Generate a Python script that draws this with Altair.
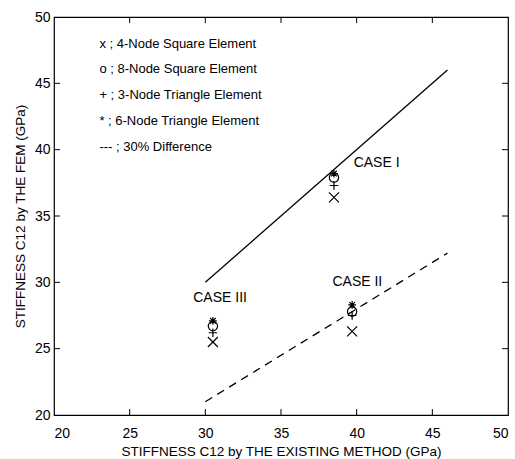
import altair as alt
import pandas as pd

FONT = "Liberation Sans Narrow, Arial Narrow, Liberation Sans, Arial"

# axis ticks
inner_ticks = [25, 30, 35, 40, 45]

# reference lines
line_x = [30, 46]
solid_y = [30, 46]
dashed_y = [21, 32.2]

# FEM results per case
case_x = [38.5, 39.7, 30.5]
x4_y = [36.4, 26.3, 25.5]
o8_y = [37.9, 27.8, 26.7]
p3_y = [37.3, 27.5, 26.2]
s6_y = [38.2, 28.3, 27.1]

# case labels
case_labels = ["CASE I", "CASE II", "CASE III"]
label_x = [39.8, 38.4, 29.2]
label_y = [39.0, 30.0, 28.8]

# legend text
legend_lines = [
    "x ; 4-Node Square Element",
    "o ; 8-Node Square Element",
    "+ ; 3-Node Triangle Element",
    "* ; 6-Node Triangle Element",
    "--- ; 30% Difference",
]
legend_x = [23.0] * 5
legend_y = [48.0, 46.05, 44.1, 42.15, 40.2]

W, H = 454, 398
xs = alt.Scale(domain=[20, 50], nice=False, zero=False)
ys = alt.Scale(domain=[20, 50], nice=False, zero=False)

lines_df = pd.DataFrame({"x": line_x * 2, "y": solid_y + dashed_y,
                         "kind": ["solid"] * 2 + ["dashed"] * 2})

solid = alt.Chart(lines_df[lines_df.kind == "solid"]).mark_line(
    color="black", strokeWidth=1.3).encode(
    x=alt.X("x:Q", scale=xs, title="STIFFNESS C12 by THE EXISTING METHOD (GPa)",
            axis=alt.Axis(values=[20, 25, 30, 35, 40, 45, 50], ticks=False, domain=False,
                          grid=False, labelPadding=11, titlePadding=4, format="d")),
    y=alt.Y("y:Q", scale=ys, title="STIFFNESS C12 by THE FEM (GPa)",
            axis=alt.Axis(values=[20, 25, 30, 35, 40, 45, 50], ticks=False, domain=False,
                          grid=False, labelPadding=4, titlePadding=7, format="d")),
)
dashed = alt.Chart(lines_df[lines_df.kind == "dashed"]).mark_line(
    color="black", strokeWidth=1.3, strokeDash=[8, 6]).encode(
    x=alt.X("x:Q", scale=xs), y=alt.Y("y:Q", scale=ys))

types = ["x4", "o8", "p3", "s6"]
pts = []
for t, vals in zip(types, [x4_y, o8_y, p3_y, s6_y]):
    for cx, cy in zip(case_x, vals):
        pts.append({"x": cx, "y": cy, "t": t})
pts_df = pd.DataFrame(pts)

shape_paths = [
    "M-1,-1L1,1M-1,1L1,-1",
    "circle",
    "M-1,0L1,0M0,-1L0,1",
    "M-1,0L1,0M0,-1L0,1M-0.72,-0.72L0.72,0.72M-0.72,0.72L0.72,-0.72",
]
sizes = [100, 60, 85, 110]

markers = alt.Chart(pts_df).mark_point(filled=False, color="black", strokeWidth=1.2, opacity=1).encode(
    x=alt.X("x:Q", scale=xs), y=alt.Y("y:Q", scale=ys),
    shape=alt.Shape("t:N", scale=alt.Scale(domain=types, range=shape_paths), legend=None),
    size=alt.Size("t:N", scale=alt.Scale(domain=types, range=sizes), legend=None),
)

lab_df = pd.DataFrame({"x": label_x, "y": label_y, "t": case_labels})
labels = alt.Chart(lab_df).mark_text(align="left", baseline="middle", font=FONT,
                                     fontSize=14, color="black").encode(
    x=alt.X("x:Q", scale=xs), y=alt.Y("y:Q", scale=ys), text="t:N")

leg_df = pd.DataFrame({"x": legend_x, "y": legend_y, "t": legend_lines})
legend = alt.Chart(leg_df).mark_text(align="left", baseline="middle", font=FONT,
                                     fontSize=13, color="black").encode(
    x=alt.X("x:Q", scale=xs), y=alt.Y("y:Q", scale=ys), text="t:N")

tick_df = pd.DataFrame({"v": inner_ticks})
tb = alt.Chart(tick_df).mark_rule(color="black", strokeWidth=1).encode(
    x=alt.X("v:Q", scale=xs), y=alt.value(H), y2=alt.value(H - 6))
tt = alt.Chart(tick_df).mark_rule(color="black", strokeWidth=1).encode(
    x=alt.X("v:Q", scale=xs), y=alt.value(0), y2=alt.value(6))
tl = alt.Chart(tick_df).mark_rule(color="black", strokeWidth=1).encode(
    y=alt.Y("v:Q", scale=ys), x=alt.value(0), x2=alt.value(6))
tr = alt.Chart(tick_df).mark_rule(color="black", strokeWidth=1).encode(
    y=alt.Y("v:Q", scale=ys), x=alt.value(W), x2=alt.value(W - 6))

chart = alt.layer(solid, dashed, markers, labels, legend, tb, tt, tl, tr).properties(
    width=W, height=H,
    autosize=alt.AutoSizeParams(type="none"),
    padding={"left": 54, "top": 17, "right": 7, "bottom": 44},
    background="white",
).configure_view(stroke="black", strokeWidth=1.2).configure_axis(
    labelFont=FONT, titleFont=FONT, labelFontSize=14, titleFontSize=13.5,
    labelColor="black", titleColor="black", titleFontWeight="normal",
)

chart.save("out.html", embed_options={"renderer": "svg", "actions": False})
